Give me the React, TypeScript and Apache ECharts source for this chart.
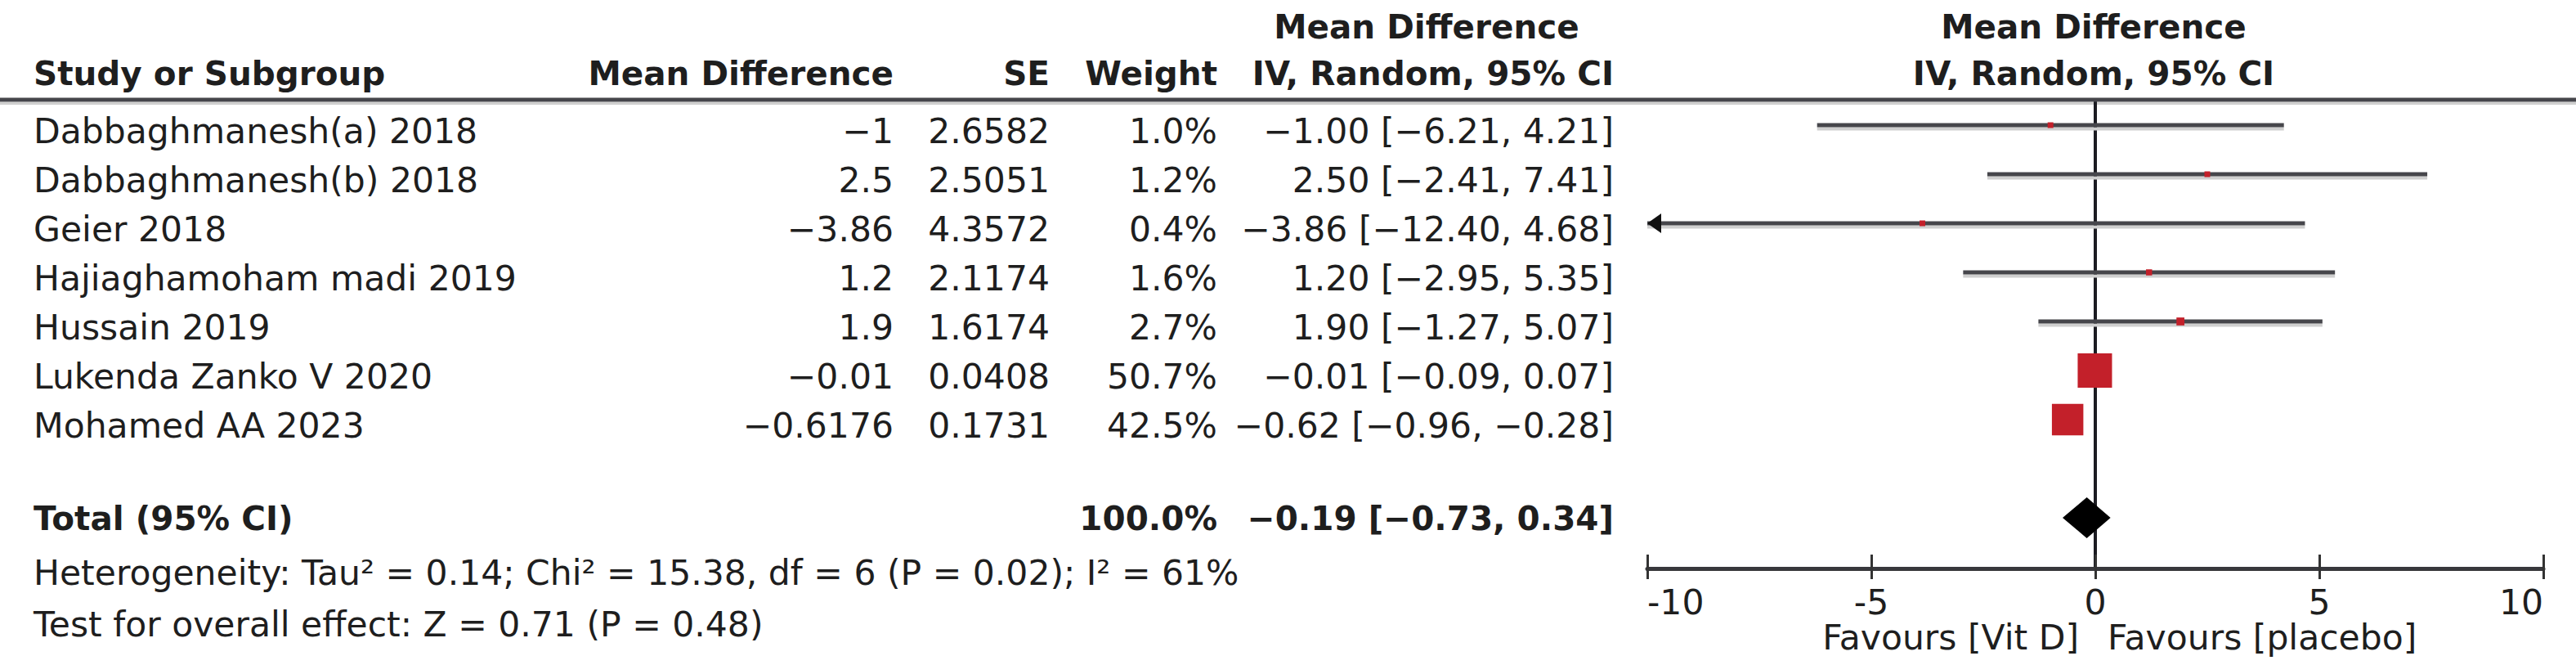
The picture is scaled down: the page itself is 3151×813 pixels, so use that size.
import React, { useEffect, useRef } from "react";
import * as echarts from "echarts";

// ---------------- data ----------------
const studies = [
  "Dabbaghmanesh(a) 2018",
  "Dabbaghmanesh(b) 2018",
  "Geier 2018",
  "Hajiaghamoham madi 2019",
  "Hussain 2019",
  "Lukenda Zanko V 2020",
  "Mohamed AA 2023",
];
const meanDiff = [-1, 2.5, -3.86, 1.2, 1.9, -0.01, -0.6176];
const stdErr = [2.6582, 2.5051, 4.3572, 2.1174, 1.6174, 0.0408, 0.1731];
const weights = [1.0, 1.2, 0.4, 1.6, 2.7, 50.7, 42.5];
const ciLow = [-6.21, -2.41, -12.4, -2.95, -1.27, -0.09, -0.96];
const ciHigh = [4.21, 7.41, 4.68, 5.35, 5.07, 0.07, -0.28];

const totalLabel = "Total (95% CI)";
const totalWeight = 100.0;
const totalEst = -0.19;
const totalLow = -0.73;
const totalHigh = 0.34;
const totalRow = 8;

const xMin = -10;
const xMax = 10;
const xInterval = 5;

const heterogeneityText =
  "Heterogeneity: Tau\u00b2 = 0.14; Chi\u00b2 = 15.38, df = 6 (P = 0.02); I\u00b2 = 61%";
const overallEffectText = "Test for overall effect: Z = 0.71 (P = 0.48)";
const favoursLeft = "Favours [Vit D]";
const favoursRight = "Favours [placebo]";

// ---------------- layout / style ----------------
const W = 3151;
const H = 813;
const FAM = '"DejaVu Sans", Verdana, sans-serif';
const REG = `42.5px ${FAM}`;
const BOLD = `bold 40.5px ${FAM}`;
const INK = "#1e1e1e";
const LINE = "#46464b";
const SHADE = "#cfcfcf";
const RED = "#c3202a";

const ROW0_PX = 153;
const ROW_H = 60;
const HEADER_LINE_Y = 122;
const AXIS_Y = 695;
const PLOT_LEFT = 2015;
const PLOT_RIGHT = 3111;

const COL_NAME = 41;
const COL_MD = 1093;
const COL_SE = 1284;
const COL_W = 1489;
const COL_CI = 1974;
const HEAD1_Y = 33;
const HEAD2_Y = 90;
const TEXT_DY = 7;

const minus = (s: string) => s.replace(/-/g, "\u2212");
const fmtCI = (e: number, l: number, h: number) =>
  minus(`${e.toFixed(2)} [${l.toFixed(2)}, ${h.toFixed(2)}]`);

const mdText = meanDiff.map((v) => minus(String(v)));
const seText = stdErr.map((v) => String(v));
const wText = weights.map((v) => `${v.toFixed(1)}%`);
const ciText = meanDiff.map((v, i) => fmtCI(v, ciLow[i], ciHigh[i]));

// text grid: y value = row index, 60px per row, row 0 at ROW0_PX
const textYMin = -ROW0_PX / ROW_H;
const textYMax = textYMin + H / ROW_H;
// forest grid
const plotYMin = -(ROW0_PX - HEADER_LINE_Y) / ROW_H;
const plotYMax = plotYMin + (AXIS_Y - HEADER_LINE_Y) / ROW_H;

function textColumn(
  texts: string[],
  rows: number[],
  x: number,
  align: string,
  font: string,
  dy: number
) {
  return {
    type: "custom",
    xAxisIndex: 0,
    yAxisIndex: 0,
    silent: true,
    clip: false,
    data: texts.map((_, i) => [x, rows[i]]),
    renderItem: (params: any, api: any) => {
      const p = api.coord([api.value(0), api.value(1)]);
      return {
        type: "text",
        x: p[0],
        y: p[1] + dy,
        style: {
          text: texts[params.dataIndex],
          font,
          fill: INK,
          align,
          verticalAlign: "middle",
        },
      };
    },
  };
}

function buildOption() {
  const rows = studies.map((_, i) => i);
  const series: any[] = [
    textColumn(studies, rows, COL_NAME, "left", REG, TEXT_DY),
    textColumn(mdText, rows, COL_MD, "right", REG, TEXT_DY),
    textColumn(seText, rows, COL_SE, "right", REG, TEXT_DY),
    textColumn(wText, rows, COL_W, "right", REG, TEXT_DY),
    textColumn(ciText, rows, COL_CI, "right", REG, TEXT_DY),
    textColumn([totalLabel], [totalRow], COL_NAME, "left", BOLD, 1),
    textColumn([`${totalWeight.toFixed(1)}%`], [totalRow], COL_W, "right", BOLD, 1),
    textColumn([fmtCI(totalEst, totalLow, totalHigh)], [totalRow], COL_CI, "right", BOLD, 1),
    {
      type: "custom",
      xAxisIndex: 1,
      yAxisIndex: 1,
      silent: true,
      clip: false,
      z: 5,
      data: studies.map((_, i) => [meanDiff[i], i, ciLow[i], ciHigh[i], weights[i]]),
      renderItem: (params: any, api: any) => {
        const est = api.value(0);
        const row = api.value(1);
        const lo = api.value(2);
        const hi = api.value(3);
        const w = api.value(4);
        const pLo = api.coord([Math.max(lo, xMin), row]);
        const pHi = api.coord([Math.min(hi, xMax), row]);
        const pE = api.coord([est, row]);
        const y = pE[1];
        const children: any[] = [
          {
            type: "line",
            shape: { x1: pLo[0], y1: y + 4.5, x2: pHi[0], y2: y + 4.5 },
            style: { stroke: SHADE, lineWidth: 4 },
          },
          {
            type: "line",
            shape: { x1: pLo[0], y1: y, x2: pHi[0], y2: y },
            style: { stroke: LINE, lineWidth: 5 },
          },
        ];
        if (lo < xMin) {
          children.push({
            type: "polygon",
            shape: { points: [[pLo[0], y], [pLo[0] + 17, y - 12], [pLo[0] + 17, y + 12]] },
            style: { fill: "#111" },
          });
        }
        if (hi > xMax) {
          children.push({
            type: "polygon",
            shape: { points: [[pHi[0], y], [pHi[0] - 17, y - 12], [pHi[0] - 17, y + 12]] },
            style: { fill: "#111" },
          });
        }
        const s = Math.max(7, 5.9 * Math.sqrt(w));
        children.push({
          type: "rect",
          shape: { x: pE[0] - s / 2, y: y - s / 2, width: s, height: s },
          style: { fill: RED },
        });
        return { type: "group", children };
      },
    },
    {
      type: "custom",
      xAxisIndex: 1,
      yAxisIndex: 1,
      silent: true,
      clip: false,
      z: 5,
      data: [[totalEst, totalRow, totalLow, totalHigh]],
      renderItem: (params: any, api: any) => {
        const pE = api.coord([api.value(0), api.value(1)]);
        const pL = api.coord([api.value(2), api.value(1)]);
        const pH = api.coord([api.value(3), api.value(1)]);
        const y = pE[1];
        return {
          type: "polygon",
          shape: { points: [[pL[0], y], [pE[0], y - 25], [pH[0], y], [pE[0], y + 25]] },
          style: { fill: "#000" },
        };
      },
    },
  ];

  const head = (text: string, x: number, y: number, align: string) => ({
    type: "text",
    x,
    y,
    silent: true,
    style: { text, font: BOLD, fill: INK, align, verticalAlign: "middle" },
  });
  const plain = (text: string, x: number, y: number, align: string, lineHeight?: number) => ({
    type: "text",
    x,
    y,
    silent: true,
    style: {
      text,
      font: REG,
      fill: INK,
      align,
      verticalAlign: "middle",
      ...(lineHeight ? { lineHeight } : {}),
    },
  });

  const zeroPx = PLOT_LEFT + ((0 - xMin) / (xMax - xMin)) * (PLOT_RIGHT - PLOT_LEFT);

  const graphic: any[] = [
    head("Mean Difference", 1745, HEAD1_Y, "center"),
    head("Mean Difference", 2561, HEAD1_Y, "center"),
    head("Study or Subgroup", COL_NAME, HEAD2_Y, "left"),
    head("Mean Difference", COL_MD, HEAD2_Y, "right"),
    head("SE", COL_SE, HEAD2_Y, "right"),
    head("Weight", COL_W, HEAD2_Y, "right"),
    head("IV, Random, 95% CI", COL_CI, HEAD2_Y, "right"),
    head("IV, Random, 95% CI", 2561, HEAD2_Y, "center"),
    {
      type: "line",
      silent: true,
      shape: { x1: 0, y1: HEADER_LINE_Y + 4.5, x2: W, y2: HEADER_LINE_Y + 4.5 },
      style: { stroke: SHADE, lineWidth: 3 },
    },
    {
      type: "line",
      silent: true,
      z: 10,
      shape: { x1: 0, y1: HEADER_LINE_Y, x2: W, y2: HEADER_LINE_Y },
      style: { stroke: LINE, lineWidth: 5 },
    },
    plain(heterogeneityText, COL_NAME, 700, "left"),
    plain(overallEffectText, COL_NAME, 763, "left"),
    plain(favoursLeft, zeroPx - 20, 779, "right", 34),
    plain(favoursRight, zeroPx + 15, 779, "left", 34),
  ];

  return {
    animation: false,
    backgroundColor: "#ffffff",
    grid: [
      { left: 0, top: 0, width: W, height: H, show: false },
      {
        left: PLOT_LEFT,
        top: HEADER_LINE_Y,
        width: PLOT_RIGHT - PLOT_LEFT,
        height: AXIS_Y - HEADER_LINE_Y,
        show: false,
      },
    ],
    xAxis: [
      { type: "value", gridIndex: 0, min: 0, max: W, show: false },
      {
        type: "value",
        gridIndex: 1,
        min: xMin,
        max: xMax,
        interval: xInterval,
        position: "bottom",
        axisLine: { show: true, onZero: false, lineStyle: { color: "#38383c", width: 5 } },
        axisTick: { show: true, length: 13, lineStyle: { color: "#333", width: 3 } },
        splitLine: { show: false },
        axisLabel: {
          show: true,
          margin: 24,
          lineHeight: 34,
          color: INK,
          fontSize: 42.5,
          fontFamily: FAM,
          alignMinLabel: "left",
          alignMaxLabel: "right",
        },
      },
      {
        type: "value",
        gridIndex: 1,
        min: xMin,
        max: xMax,
        interval: xInterval,
        position: "bottom",
        axisLine: { show: false, onZero: false },
        axisTick: { show: true, inside: true, length: 17, lineStyle: { color: "#333", width: 3 } },
        splitLine: { show: false },
        axisLabel: { show: false },
      },
    ],
    yAxis: [
      { type: "value", gridIndex: 0, min: textYMin, max: textYMax, inverse: true, show: false },
      {
        type: "value",
        gridIndex: 1,
        min: plotYMin,
        max: plotYMax,
        inverse: true,
        axisLine: { show: true, onZero: true, lineStyle: { color: "#1c1c22", width: 4 } },
        axisTick: { show: false },
        axisLabel: { show: false },
        splitLine: { show: false },
      },
    ],
    series,
    graphic,
  };
}

export default function App() {
  const ref = useRef<HTMLDivElement>(null);
  useEffect(() => {
    if (!ref.current) return;
    const chart = echarts.init(ref.current, undefined, { renderer: "svg" });
    chart.setOption(buildOption() as any);
    return () => chart.dispose();
  }, []);
  return (
    <div
      ref={ref}
      style={{
        position: "absolute",
        left: 0,
        top: 0,
        width: `${W}px`,
        height: `${H}px`,
        background: "#fff",
      }}
    />
  );
}
